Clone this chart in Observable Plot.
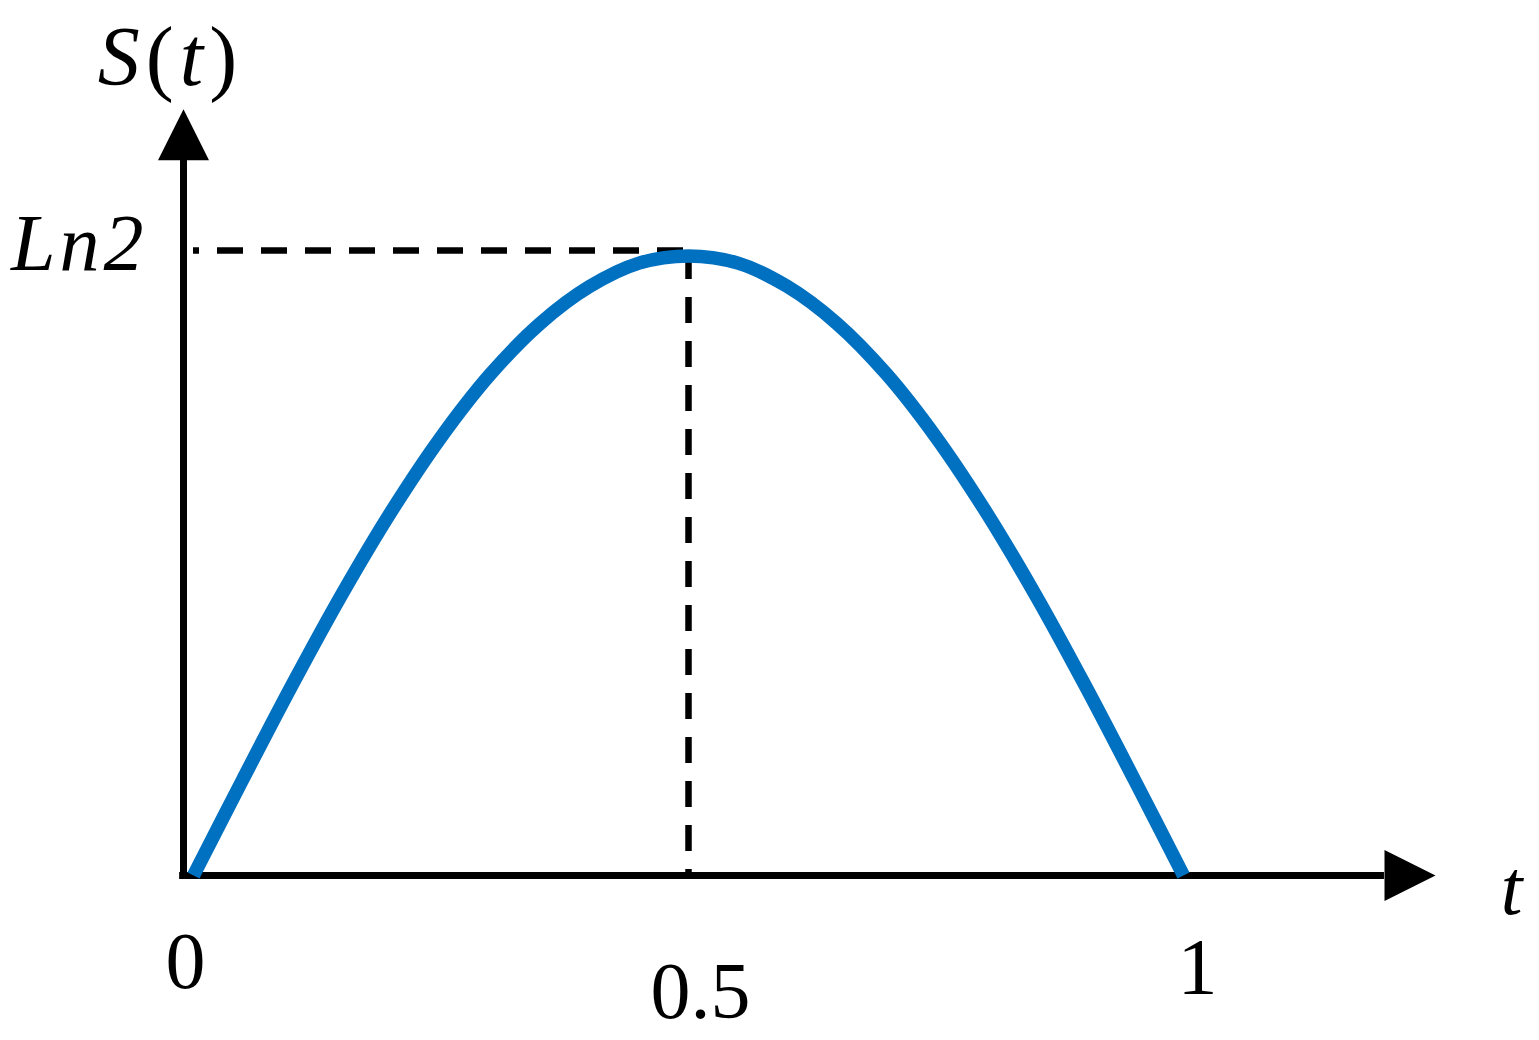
<!DOCTYPE html>
<html>
<head>
<meta charset="utf-8">
<script src="https://cdn.jsdelivr.net/npm/d3@7"></script>
<script src="https://cdn.jsdelivr.net/npm/@observablehq/plot@0.6"></script>
<style>
  html, body { margin: 0; padding: 0; background: #fff; }
  #chart svg { display: block; }
</style>
</head>
<body>
<div id="chart"></div>
<script>
// Curve S(t)
const tValues = [0, 0.05, 0.10, 0.15, 0.20, 0.25, 0.30, 0.35, 0.40, 0.45, 0.50,
                 0.55, 0.60, 0.65, 0.70, 0.75, 0.80, 0.85, 0.90, 0.95, 1.00];
const sValues = [0.000, 0.107, 0.212, 0.312, 0.404, 0.486, 0.556, 0.612, 0.653, 0.679, 0.687,
                 0.679, 0.653, 0.612, 0.556, 0.486, 0.404, 0.312, 0.212, 0.107, 0.000];

// Marked values and labels
const peakT = 0.5;
const ln2 = 0.693;
const xTickValues = [0, 0.5, 1];
const xTickLabels = ["0", "0.5", "1"];
const yTickLabel = "Ln2";
const xAxisLabel = "t";
const yAxisLabel = "S(t)";

// Axis extents (data units)
const yAxisX = -0.0101;
const xAxisStart = -0.014;
const xAxisEnd = 1.203;
const yAxisStart = -0.0035;
const yAxisEnd = 0.793;

const curve = tValues.map((t, i) => ({t, s: sValues[i]}));

const arrowHead = {
  draw(ctx) {
    ctx.moveTo(0, -25.5);
    ctx.lineTo(51, 0);
    ctx.lineTo(0, 25.5);
    ctx.closePath();
  }
};

const serif = "'Liberation Serif', 'Times New Roman', serif";

const chart = Plot.plot({
  width: 1539,
  height: 1040,
  marginLeft: 193,
  marginRight: 356,
  marginTop: 250,
  marginBottom: 165,
  x: {domain: [0, 1], axis: null},
  y: {domain: [0, ln2], axis: null},
  style: {background: "#fff"},
  marks: [
    // dashed guides
    Plot.ruleY([ln2], {x1: 0, x2: 0.4965, stroke: "black", strokeWidth: 6.5, strokeDasharray: "26,18", strokeDashoffset: 20}),
    Plot.ruleX([peakT], {y1: ln2 * 0.985, y2: 0, stroke: "black", strokeWidth: 6.5, strokeDasharray: "26,18", strokeDashoffset: 6.4}),
    // axes
    Plot.ruleY([0], {x1: xAxisStart, x2: xAxisEnd, stroke: "black", strokeWidth: 7}),
    Plot.ruleX([yAxisX], {y1: yAxisStart, y2: yAxisEnd, stroke: "black", strokeWidth: 7}),
    Plot.dot([{x: xAxisEnd, y: 0}], {x: "x", y: "y", symbol: arrowHead, fill: "black", stroke: "none", rotate: 0}),
    Plot.dot([{x: yAxisX, y: yAxisEnd}], {x: "x", y: "y", symbol: arrowHead, fill: "black", stroke: "none", rotate: -90}),
    // curve
    Plot.line(curve, {x: "t", y: "s", stroke: "#0070C0", strokeWidth: 13.5, curve: "catmull-rom", strokeLinecap: "butt", strokeLinejoin: "round"}),
    // tick labels
    Plot.text([0], {x: d => xTickValues[0], y: d => 0, text: d => xTickLabels[0], dx: -8, dy: 112, lineAnchor: "bottom", fontSize: 80, fontFamily: serif, fill: "black"}),
    Plot.text([0], {x: d => xTickValues[1], y: d => 0, text: d => xTickLabels[1], dx: 12, dy: 142, lineAnchor: "bottom", fontSize: 80, fontFamily: serif, fill: "black"}),
    Plot.text([0], {x: d => xTickValues[2], y: d => 0, text: d => xTickLabels[2], dx: 14, dy: 118, lineAnchor: "bottom", fontSize: 80, fontFamily: serif, fill: "black"}),
    Plot.text([0], {x: d => 0, y: d => ln2, text: d => yTickLabel, dx: -46, dy: 19, textAnchor: "end", lineAnchor: "bottom", fontSize: 80, fontStyle: "italic", fontFamily: serif, fill: "black", className: "ytick"}),
    // axis labels
    Plot.text([0], {x: d => xAxisEnd, y: d => 0, text: d => xAxisLabel, dx: 127, dy: 38, lineAnchor: "bottom", fontSize: 78, fontStyle: "italic", fontFamily: serif, fill: "black"}),
    Plot.text([0], {x: d => yAxisX, y: d => yAxisEnd, text: d => yAxisLabel, dx: -13, dy: -75, lineAnchor: "bottom", fontSize: 84, fontFamily: serif, fill: "black", className: "ylabel"})
  ]
});

// Mathematical styling: italic variables, upright parentheses, wider spacing
d3.select(chart).selectAll(".ylabel text").each(function() {
  const t = d3.select(this);
  const txt = t.text();
  t.text(null).attr("letter-spacing", 6);
  for (const ch of txt) {
    t.append("tspan")
      .attr("font-style", /[A-Za-z]/.test(ch) ? "italic" : "normal")
      .text(ch);
  }
});
d3.select(chart).selectAll(".ytick text").attr("letter-spacing", 4);

document.getElementById("chart").appendChild(chart);
</script>
</body>
</html>
